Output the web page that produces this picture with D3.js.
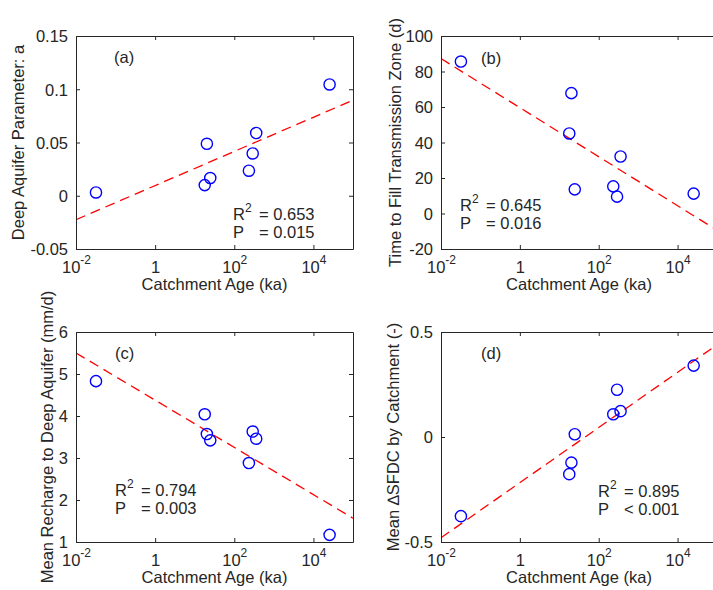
<!DOCTYPE html>
<html>
<head>
<meta charset="utf-8">
<script src="https://cdn.jsdelivr.net/npm/d3@7"></script>
<style>
body { margin: 0; background: #fff; }
svg text { font-family: "Liberation Sans", Arial, Helvetica, sans-serif; fill: #262626; }
.axis path, .axis line { stroke: #262626; }
</style>
</head>
<body>
<svg id="chart" width="713" height="590"></svg>
<script>
// catchment ages (ka), same catchments in every panel
var ages = [0.032, 17.9, 20.3, 24.7, 234, 292, 358, 25600];

// panel values, in the same order as ages
var deepAquiferA = [0.0031, 0.010, 0.0488, 0.0166, 0.0235, 0.0397, 0.0589, 0.1045];
var fillTime = [85.6, 45.1, 67.8, 13.6, 15.3, 9.5, 32.1, 11.2];
var meanRecharge = [4.83, 4.04, 3.57, 3.42, 2.88, 3.63, 3.46, 1.17];
var meanDeltaSFDC = [-0.377, -0.177, -0.122, 0.013, 0.108, 0.225, 0.123, 0.340];

// x ticks (shared)
var xTicks = [1e-2, 1, 1e2, 1e4];
var xTickBase = ["10", "1", "10", "10"];
var xTickExp = ["-2", "", "2", "4"];

// y ticks per panel
var yTicksA = [-0.05, 0, 0.05, 0.1, 0.15];
var yTickLabelsA = ["-0.05", "0", "0.05", "0.1", "0.15"];
var yTicksB = [-20, 0, 20, 40, 60, 80, 100];
var yTickLabelsB = ["-20", "0", "20", "40", "60", "80", "100"];
var yTicksC = [1, 2, 3, 4, 5, 6];
var yTickLabelsC = ["1", "2", "3", "4", "5", "6"];
var yTicksD = [-0.5, 0, 0.5];
var yTickLabelsD = ["-0.5", "0", "0.5"];

var panelNames = ["(a)", "(b)", "(c)", "(d)"];
var yLabels = ["Deep Aquifer Parameter: a", "Time to Fill Transmission Zone (d)",
  "Mean Recharge to Deep Aquifer (mm/d)", "Mean \u2206SFDC by Catchment (-)"];
var r2Texts = ["= 0.653", "= 0.645", "= 0.794", "= 0.895"];
var pTexts = ["= 0.015", "= 0.016", "= 0.003", "< 0.001"];

var svg = d3.select("#chart");
var fs = 16.5, fsSup = 12;

// layout of the 2x2 grid
var colX = [76, 441], colW = [277, 276];
var rowY = [36, 332], rowH = [213, 210];

var panels = [
  { values: deepAquiferA, yDomain: [-0.05, 0.15], ticks: yTicksA, labels: yTickLabelsA,
    col: 0, row: 0, ylabOff: 52, name: [38, 27], stats: [157, 184] },
  { values: fillTime, yDomain: [-20, 100], ticks: yTicksB, labels: yTickLabelsB,
    col: 1, row: 0, ylabOff: 40, name: [40, 28], stats: [19, 175] },
  { values: meanRecharge, yDomain: [1, 6], ticks: yTicksC, labels: yTickLabelsC,
    col: 0, row: 1, ylabOff: 23, name: [39, 27], stats: [39, 164] },
  { values: meanDeltaSFDC, yDomain: [-0.5, 0.5], ticks: yTicksD, labels: yTickLabelsD,
    col: 1, row: 1, ylabOff: 42, name: [40, 27], stats: [157, 165] }
];

// least squares fit of y on log10(x)
function fitLog(xs, ys) {
  var lx = xs.map(Math.log10);
  var mx = d3.mean(lx), my = d3.mean(ys);
  var sxy = d3.sum(lx, function(d, i) { return (d - mx) * (ys[i] - my); });
  var sxx = d3.sum(lx, function(d) { return (d - mx) * (d - mx); });
  var b = sxy / sxx;
  return function(x) { return my + b * (Math.log10(x) - mx); };
}

panels.forEach(function(p, k) {
  var left = colX[p.col], top = rowY[p.row], w = colW[p.col], h = rowH[p.row];
  var g = svg.append("g").attr("transform", "translate(" + left + "," + top + ")");

  var x = d3.scaleLog().domain([1e-2, 1e5]).range([0, w]);
  var y = d3.scaleLinear().domain(p.yDomain).range([h, 0]);

  // regression line (clipped to the box)
  var clipId = "clip" + k;
  g.append("clipPath").attr("id", clipId).append("rect").attr("width", w).attr("height", h);
  var fit = fitLog(ages, p.values);
  var xd = x.domain();
  g.append("line")
    .attr("clip-path", "url(#" + clipId + ")")
    .attr("x1", x(xd[0])).attr("y1", y(fit(xd[0])))
    .attr("x2", x(xd[1])).attr("y2", y(fit(xd[1])))
    .attr("stroke", "#ff0000").attr("stroke-width", 1.3)
    .attr("stroke-dasharray", "10,6");

  // axes, ticks pointing inwards on all four sides
  var bottom = g.append("g").attr("class", "axis").attr("transform", "translate(0," + h + ")")
    .call(d3.axisBottom(x).tickValues(xTicks).tickSizeInner(-4).tickSizeOuter(0).tickPadding(12));
  g.append("g").attr("class", "axis")
    .call(d3.axisTop(x).tickValues(xTicks).tickSizeInner(-4).tickSizeOuter(0).tickFormat(""));
  var leftAx = g.append("g").attr("class", "axis")
    .call(d3.axisLeft(y).tickValues(p.ticks).tickSizeInner(-4).tickSizeOuter(0).tickPadding(8)
      .tickFormat(function(d, i) { return p.labels[i]; }));
  g.append("g").attr("class", "axis").attr("transform", "translate(" + w + ",0)")
    .call(d3.axisRight(y).tickValues(p.ticks).tickSizeInner(-4).tickSizeOuter(0).tickFormat(""));

  svg.selectAll(".axis").attr("font-family", null).attr("font-size", null);
  leftAx.selectAll("text").attr("font-size", fs).attr("dy", "0.36em");

  bottom.selectAll("text").each(function(d, i) {
    var t = d3.select(this).text(null).attr("font-size", fs).attr("dy", "0.72em");
    t.append("tspan").text(xTickBase[i]);
    if (xTickExp[i]) {
      t.append("tspan").attr("font-size", fsSup).attr("dy", "-0.75em").text(xTickExp[i]);
    }
  });

  // points
  g.selectAll("circle").data(ages).enter().append("circle")
    .attr("cx", function(d) { return x(d); })
    .attr("cy", function(d, i) { return y(p.values[i]); })
    .attr("r", 5.6)
    .attr("fill", "none").attr("stroke", "#0000ff").attr("stroke-width", 1.4);

  // axis labels
  g.append("text").attr("x", w / 2).attr("y", h + 41).attr("text-anchor", "middle")
    .attr("font-size", fs).text("Catchment Age (ka)");
  g.append("text").attr("transform", "translate(" + (-p.ylabOff) + "," + (h / 2) + ") rotate(-90)")
    .attr("text-anchor", "middle").attr("font-size", fs).text(yLabels[k]);

  // panel name and statistics
  g.append("text").attr("x", p.name[0]).attr("y", p.name[1]).attr("font-size", fs).text(panelNames[k]);
  var r = g.append("text").attr("x", p.stats[0]).attr("y", p.stats[1]).attr("font-size", fs);
  r.append("tspan").text("R");
  r.append("tspan").attr("font-size", fsSup).attr("dy", "-0.7em").text("2");
  g.append("text").attr("x", p.stats[0] + 26).attr("y", p.stats[1]).attr("font-size", fs).text(r2Texts[k]);
  g.append("text").attr("x", p.stats[0]).attr("y", p.stats[1] + 18).attr("font-size", fs).text("P");
  g.append("text").attr("x", p.stats[0] + 26).attr("y", p.stats[1] + 18).attr("font-size", fs).text(pTexts[k]);
});
</script>
</body>
</html>
